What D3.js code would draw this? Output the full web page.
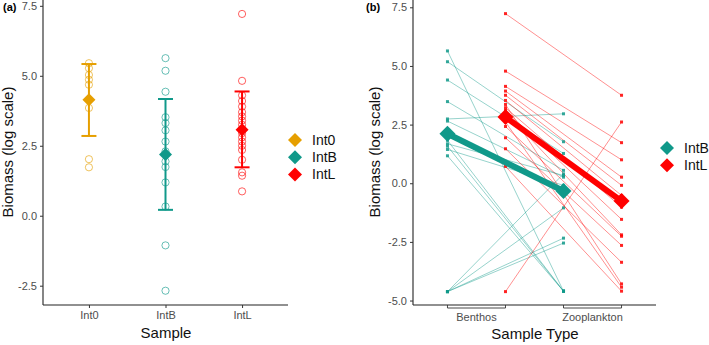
<!DOCTYPE html>
<html><head><meta charset="utf-8">
<script src="https://cdn.jsdelivr.net/npm/d3@7"></script>
<style>body{margin:0;background:#fff}svg{display:block;font-family:"Liberation Sans",Arial,sans-serif}</style>
</head><body><svg id="c" width="709" height="345"></svg>
<script>
// ---------- data ----------
const groupsA = ["Int0", "IntB", "IntL"];
const int0Vals = [5.45, 5.27, 5.03, 4.86, 4.68, 3.85, 2.02, 1.73];
const intBVals = [5.63, 5.18, 4.43, 3.52, 3.31, 3.05, 2.65, 2.3, 1.94, 1.74, 1.19, 0.33, -1.06, -2.68];
const intLVals = [7.21, 4.82, 4.3, 4.1, 3.9, 3.7, 3.55, 3.4, 3.25, 3.1, 2.95, 2.8, 2.65, 2.5, 2.35, 2.0, 1.55, 1.43, 0.87];
const meanA = [4.14, 2.19, 3.07];
const lowA = [2.85, 0.21, 1.73];
const highA = [5.42, 4.17, 4.44];
const yTicks = [-5.0, -2.5, 0.0, 2.5, 5.0, 7.5];

const sampleTypes = ["Benthos", "Zooplankton"];
const groupsB = ["IntB", "IntL"];
const intBBenthos = [5.64, 5.18, 4.40, 3.48, 2.74, 2.65, 1.83, 1.68, 1.58, 1.44, 1.17, -4.62, -4.62, -4.62, -4.62];
const intBZoo     = [-4.60, 1.77, 1.27, 0.55, 2.96, 0.26, -4.60, 0.33, -4.60, -0.09, -4.60, 0.40, -1.05, -2.34, -2.55];
const intLBenthos = [7.23, 4.78, 4.13, 3.93, 3.75, 3.53, 3.36, 3.22, 3.10, 3.03, 2.61, 2.42, 1.94, 1.47, 0.72, -4.62];
const intLZoo     = [3.75, 1.73, 1.00, 0.26, -0.09, -0.52, -4.29, -1.02, -1.54, -2.20, -4.43, -2.26, -2.65, -3.37, -4.60, 2.61];
const meanBenthos = [2.11, 2.82];
const meanZoo = [-0.33, -0.76];

const colors = {Int0: "#E69F00", IntB: "#10998A", IntL: "#FF0000"};

const svg = d3.select("#c");
const font = "'Liberation Sans', Arial, sans-serif";
const fmt = v => d3.format(".1f")(v).replace("\u2212", "-");
function diamond(g, x, y, s, color) {
  g.append("path").attr("d", `M${x},${y-s}L${x+s},${y}L${x},${y+s}L${x-s},${y}Z`).attr("fill", color);
}

// ---------- panel (a) ----------
const xA = d3.scalePoint().domain(groupsA).range([43, 288]).padding(0.6);
const yA = d3.scaleLinear().domain([-3.19, 7.69]).range([305, 0.5]);
const gA = svg.append("g");
const yAxA = gA.append("g").attr("transform", "translate(43,0)")
  .call(d3.axisLeft(yA).tickValues(yTicks.filter(v => v >= -3)).tickFormat(fmt).tickSize(3).tickSizeOuter(0));
const xAxA = gA.append("g").attr("transform", "translate(0,305)")
  .call(d3.axisBottom(xA).tickSize(3).tickSizeOuter(0));
[yAxA, xAxA].forEach(a => {
  a.select(".domain").attr("stroke", "#222").attr("stroke-width", 1.1);
  a.selectAll(".tick line").attr("stroke", "#333");
  a.selectAll("text").attr("fill", "#4d4d4d").attr("font-size", 11).attr("font-family", font);
});
yAxA.select(".domain").attr("d", "M0,0V305");
xAxA.select(".domain").attr("d", "M43,0H288");

const valsA = {Int0: int0Vals, IntB: intBVals, IntL: intLVals};
groupsA.forEach((gname, i) => {
  const x = xA(gname), c = colors[gname];
  gA.selectAll(null).data(valsA[gname]).join("circle")
    .attr("cx", x).attr("cy", d => yA(d)).attr("r", 3.6)
    .attr("fill", "none").attr("stroke", c).attr("stroke-opacity", 0.7).attr("stroke-width", 0.9);
  gA.append("line").attr("x1", x).attr("x2", x).attr("y1", yA(lowA[i])).attr("y2", yA(highA[i]))
    .attr("stroke", c).attr("stroke-width", 2);
  [lowA[i], highA[i]].forEach(v => gA.append("line").attr("x1", x - 7.5).attr("x2", x + 7.5)
    .attr("y1", yA(v)).attr("y2", yA(v)).attr("stroke", c).attr("stroke-width", 2));
  diamond(gA, x, yA(meanA[i]), 6.5, c);
});
gA.append("text").attr("x", 3).attr("y", 11).attr("font-weight", "bold").attr("font-size", 11).attr("font-family", font).text("(a)");
gA.append("text").attr("transform", "translate(13,152) rotate(-90)").attr("text-anchor", "middle")
  .attr("font-size", 15).attr("font-family", font).attr("fill", "#111").text("Biomass (log scale)");
gA.append("text").attr("x", 166).attr("y", 338).attr("text-anchor", "middle")
  .attr("font-size", 15).attr("font-family", font).attr("fill", "#111").text("Sample");
groupsA.forEach((gname, i) => {
  const y = 140 + i * 17.2;
  diamond(gA, 295, y, 7, colors[gname]);
  gA.append("text").attr("x", 312).attr("y", y + 5).attr("font-size", 14).attr("font-family", font).attr("fill", "#111").text(gname);
});

// ---------- panel (b) ----------
const xB = d3.scalePoint().domain(sampleTypes).range([413, 656]).padding(0.547);
const step = xB.step();
const dodge = {IntB: -0.25 * step, IntL: 0.25 * step};
const yB = d3.scaleLinear().domain([-5.19, 7.79]).range([305, 0.5]);
const gB = svg.append("g");
const yAxB = gB.append("g").attr("transform", "translate(413,0)")
  .call(d3.axisLeft(yB).tickValues(yTicks).tickFormat(fmt).tickSize(3).tickSizeOuter(0));
yAxB.select(".domain").attr("d", "M0,0V305").attr("stroke", "#222").attr("stroke-width", 1.1);
yAxB.selectAll(".tick line").attr("stroke", "#333");
yAxB.selectAll("text").attr("fill", "#4d4d4d").attr("font-size", 11).attr("font-family", font);
gB.append("line").attr("x1", 413).attr("x2", 656).attr("y1", 305).attr("y2", 305).attr("stroke", "#222").attr("stroke-width", 1.1);
sampleTypes.forEach(s => {
  const x1 = xB(s) + dodge.IntB, x2 = xB(s) + dodge.IntL;
  gB.append("path").attr("d", `M${x1},305V308H${x2}V305`).attr("fill", "none").attr("stroke", "#333").attr("stroke-width", 0.9);
  gB.append("text").attr("x", xB(s)).attr("y", 321).attr("text-anchor", "middle")
    .attr("font-size", 11).attr("font-family", font).attr("fill", "#4d4d4d").text(s);
});

const pairs = {
  IntB: intBBenthos.map((b, i) => [b, intBZoo[i]]),
  IntL: intLBenthos.map((b, i) => [b, intLZoo[i]])
};
const xb = g => xB("Benthos") + dodge[g], xz = g => xB("Zooplankton") + dodge[g];
groupsB.forEach(g => {
  const c = colors[g];
  gB.selectAll(null).data(pairs[g]).join("line")
    .attr("x1", xb(g)).attr("x2", xz(g)).attr("y1", d => yB(d[0])).attr("y2", d => yB(d[1]))
    .attr("stroke", c).attr("stroke-opacity", 0.55).attr("stroke-width", 0.8);
});
groupsB.forEach(g => {
  const c = colors[g];
  pairs[g].forEach(d => {
    gB.append("rect").attr("x", xb(g) - 1.5).attr("y", yB(d[0]) - 1.5).attr("width", 3).attr("height", 3).attr("fill", c).attr("opacity", 0.85);
    gB.append("rect").attr("x", xz(g) - 1.5).attr("y", yB(d[1]) - 1.5).attr("width", 3).attr("height", 3).attr("fill", c).attr("opacity", 0.85);
  });
});
groupsB.forEach((g, i) => {
  const c = colors[g];
  gB.append("line").attr("x1", xb(g)).attr("x2", xz(g)).attr("y1", yB(meanBenthos[i])).attr("y2", yB(meanZoo[i]))
    .attr("stroke", c).attr("stroke-width", 6);
  diamond(gB, xb(g), yB(meanBenthos[i]), 8, c);
  diamond(gB, xz(g), yB(meanZoo[i]), 8, c);
});
gB.append("text").attr("x", 366).attr("y", 11).attr("font-weight", "bold").attr("font-size", 11).attr("font-family", font).text("(b)");
gB.append("text").attr("transform", "translate(380,152) rotate(-90)").attr("text-anchor", "middle")
  .attr("font-size", 15).attr("font-family", font).attr("fill", "#111").text("Biomass (log scale)");
gB.append("text").attr("x", 535).attr("y", 339).attr("text-anchor", "middle")
  .attr("font-size", 15).attr("font-family", font).attr("fill", "#111").text("Sample Type");
groupsB.forEach((g, i) => {
  const y = 148 + i * 17.2;
  diamond(gB, 667, y, 7, colors[g]);
  gB.append("text").attr("x", 684).attr("y", y + 5).attr("font-size", 14).attr("font-family", font).attr("fill", "#111").text(g);
});
</script></body></html>
